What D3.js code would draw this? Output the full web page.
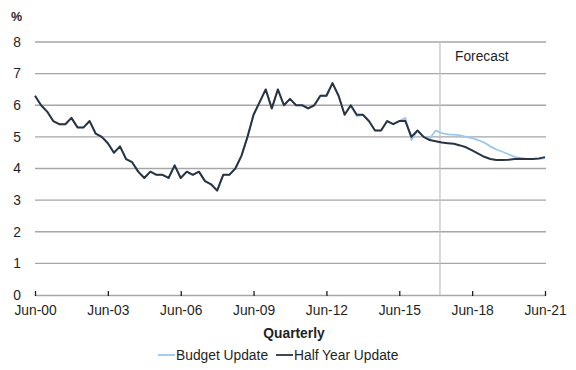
<!DOCTYPE html>
<html>
<head>
<meta charset="utf-8">
<script src="https://cdn.jsdelivr.net/npm/d3@7"></script>
<style>
  body { margin: 0; background: #fff; }
  text { font-family: "Liberation Sans", Arial, sans-serif; fill: #1f1f1f; }
</style>
</head>
<body>
<div id="chart"></div>
<script>
// Quarter labels used as x ticks (quarter index from Jun-00)
const tickLabels = ['Jun-00', 'Jun-03', 'Jun-06', 'Jun-09', 'Jun-12', 'Jun-15', 'Jun-18', 'Jun-21'];
const tickQuarters = [0, 12, 24, 36, 48, 60, 72, 84];
const yTicks = [0, 1, 2, 3, 4, 5, 6, 7, 8];
const forecastAt = 66.7;

// Unemployment rate, quarterly Jun-00 .. Jun-21
const halfYearUpdate = [
  6.3, 6.0, 5.8, 5.5, 5.4, 5.4, 5.6, 5.3, 5.3, 5.5,
  5.1, 5.0, 4.8, 4.5, 4.7, 4.3, 4.2, 3.9, 3.7, 3.9,
  3.8, 3.8, 3.7, 4.1, 3.7, 3.9, 3.8, 3.9, 3.6, 3.5,
  3.3, 3.8, 3.8, 4.0, 4.4, 5.0, 5.7, 6.1, 6.5, 5.9,
  6.5, 6.0, 6.2, 6.0, 6.0, 5.9, 6.0, 6.3, 6.3, 6.7,
  6.3, 5.7, 6.0, 5.7, 5.7, 5.5, 5.2, 5.2, 5.5, 5.4,
  5.5, 5.5, 5.0, 5.2, 5.0, 4.9, 4.86, 4.82, 4.8, 4.78,
  4.73, 4.67, 4.57, 4.47, 4.37, 4.3, 4.27, 4.27, 4.28, 4.3,
  4.31, 4.3, 4.3, 4.32, 4.36
];
const budgetUpdate = [
  6.3, 6.0, 5.8, 5.5, 5.4, 5.4, 5.6, 5.3, 5.3, 5.5,
  5.1, 5.0, 4.8, 4.5, 4.7, 4.3, 4.2, 3.9, 3.7, 3.9,
  3.8, 3.8, 3.7, 4.1, 3.7, 3.9, 3.8, 3.9, 3.6, 3.5,
  3.3, 3.8, 3.8, 4.0, 4.4, 5.0, 5.7, 6.1, 6.5, 5.9,
  6.5, 6.0, 6.2, 6.0, 6.0, 5.9, 6.0, 6.3, 6.3, 6.7,
  6.3, 5.7, 6.0, 5.65, 5.7, 5.5, 5.2, 5.2, 5.5, 5.4,
  5.5, 5.6, 4.9, 5.2, 5.0, 4.95, 5.2, 5.12, 5.08, 5.07,
  5.05, 5.0, 4.96, 4.9, 4.82, 4.7, 4.6, 4.53, 4.45, 4.37,
  4.32, 4.3, 4.3, 4.3, 4.33
];

const width = 576, height = 370;
const margin = {top: 42, right: 31, bottom: 75, left: 35};
const innerW = width - margin.left - margin.right;
const innerH = height - margin.top - margin.bottom;
const fontSize = '13.8px';

const svg = d3.select('#chart').append('svg')
  .attr('width', width)
  .attr('height', height);

const chart = svg.append('g')
  .attr('transform', `translate(${margin.left},${margin.top})`);

const xScale = d3.scaleLinear().domain([0, 84]).range([0, innerW]);
const yScale = d3.scaleLinear().domain([0, 8]).range([innerH, 0]);

// Horizontal gridlines
chart.selectAll('.grid')
  .data(yTicks.filter(d => d > 0))
  .join('line')
  .attr('class', 'grid')
  .attr('x1', 0).attr('x2', innerW + 1)
  .attr('y1', d => yScale(d)).attr('y2', d => yScale(d))
  .attr('stroke', '#a6a6a6')
  .attr('stroke-width', 1.3);

// Y labels
chart.selectAll('.ylab')
  .data(yTicks)
  .join('text')
  .attr('class', 'ylab')
  .attr('x', -14)
  .attr('y', d => yScale(d))
  .attr('dy', '0.35em')
  .attr('text-anchor', 'end')
  .style('font-size', fontSize)
  .text(d => d);

svg.append('text')
  .attr('x', 11).attr('y', 21)
  .style('font-size', '12.5px')
  .style('font-weight', 'bold')
  .text('%');

// Forecast divider
chart.append('line')
  .attr('x1', xScale(forecastAt)).attr('x2', xScale(forecastAt))
  .attr('y1', 0).attr('y2', innerH)
  .attr('stroke', '#c4c4c4')
  .attr('stroke-width', 1.3);

chart.append('text')
  .attr('x', xScale(forecastAt) + 15)
  .attr('y', 19)
  .style('font-size', fontSize)
  .text('Forecast');

// X axis
const xAxis = d3.axisBottom(xScale)
  .tickValues(tickQuarters)
  .tickSize(0)
  .tickPadding(10)
  .tickFormat((d, i) => tickLabels[i]);

const xAxisG = chart.append('g')
  .attr('transform', `translate(0,${innerH})`)
  .call(xAxis);
xAxisG.select('.domain').attr('stroke', '#a6a6a6').attr('stroke-width', 1.6);
xAxisG.selectAll('.tick text')
  .style('font-size', fontSize)
  .style('font-family', '"Liberation Sans", Arial, sans-serif')
  .attr('fill', '#1f1f1f');
xAxisG.selectAll('.tick').append('line')
  .attr('y1', -4).attr('y2', 1)
  .attr('stroke', '#1f1f1f')
  .attr('stroke-width', 1.3);

svg.append('text')
  .attr('x', margin.left + innerW / 2 + 4)
  .attr('y', 338)
  .attr('text-anchor', 'middle')
  .style('font-size', fontSize)
  .style('font-weight', 'bold')
  .text('Quarterly');

// Lines
const line = d3.line()
  .x((d, i) => xScale(i))
  .y(d => yScale(d));

chart.append('path')
  .datum(budgetUpdate)
  .attr('fill', 'none')
  .attr('stroke', '#9cc8f0')
  .attr('stroke-width', 1.8)
  .attr('stroke-linejoin', 'round')
  .attr('d', line);

chart.append('path')
  .datum(halfYearUpdate)
  .attr('fill', 'none')
  .attr('stroke', '#2a3340')
  .attr('stroke-width', 2)
  .attr('stroke-linejoin', 'round')
  .attr('d', line);

// Legend
const legend = [
  {label: 'Budget Update', color: '#9cc8f0', x: 158},
  {label: 'Half Year Update', color: '#2a3340', x: 276}
];
const lg = svg.append('g').attr('transform', 'translate(0,355)');
lg.selectAll('line')
  .data(legend)
  .join('line')
  .attr('x1', d => d.x).attr('x2', d => d.x + 17)
  .attr('y1', 0).attr('y2', 0)
  .attr('stroke', d => d.color)
  .attr('stroke-width', 1.8);
lg.selectAll('text')
  .data(legend)
  .join('text')
  .attr('x', d => d.x + 18)
  .attr('y', 0)
  .attr('dy', '0.35em')
  .style('font-size', fontSize)
  .text(d => d.label);
</script>
</body>
</html>
